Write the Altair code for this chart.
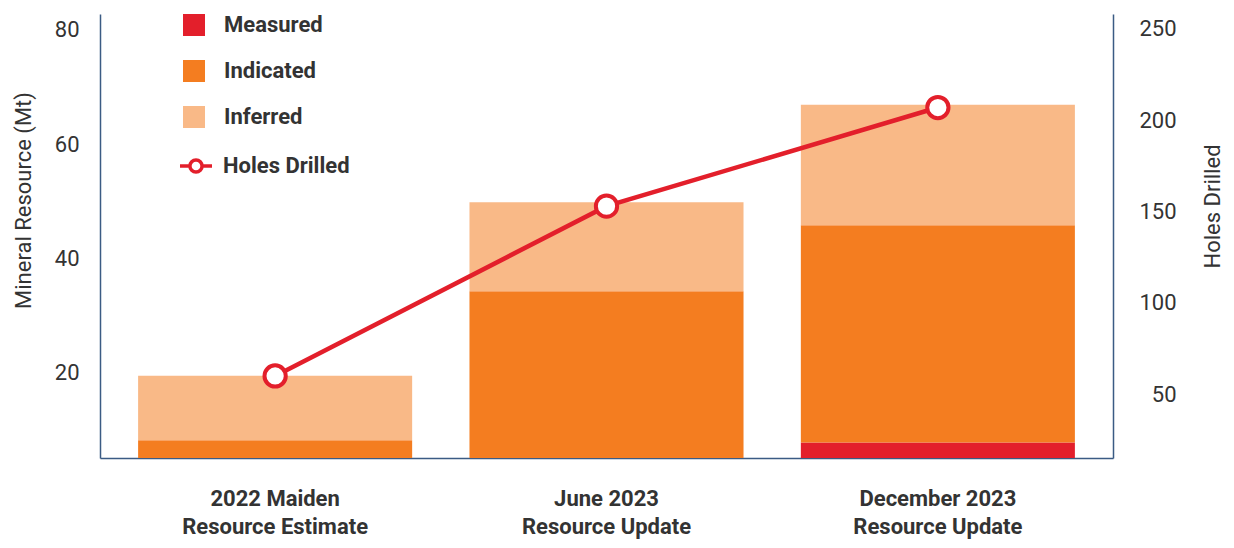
import altair as alt
import pandas as pd

categories = ["2022 Maiden|Resource Estimate", "June 2023|Resource Update", "December 2023|Resource Update"]
classes = ["Measured", "Indicated", "Inferred"]
measured = [0.0, 0.0, 7.7]
indicated = [8.1, 34.2, 38.1]
inferred = [11.3, 15.6, 21.1]
holes = [60, 153, 207]
left_ticks = [20, 40, 60, 80]
right_ticks = [50, 100, 150, 200, 250]
class_colors = ["#e31f2b", "#f47d20", "#f9b987"]
line_color = "#e31f2b"
axis_color = "#3b5b84"
text_color = "#333333"
fs = 22

rows = []
for i, cat in enumerate(categories):
    for j, (cls, vals) in enumerate(zip(classes, [measured, indicated, inferred])):
        rows.append({"category": cat, "cls": cls, "value": vals[i], "idx": j})
bar_df = pd.DataFrame(rows)
line_df = pd.DataFrame({"category": categories, "holes": holes, "series": ["Holes Drilled"] * 3})

x_enc = alt.X(
    "category:N",
    sort=categories,
    scale=alt.Scale(paddingInner=0.173, paddingOuter=0.115),
    axis=alt.Axis(
        title=None,
        labelExpr="split(datum.label, '|')",
        labelFontSize=fs,
        labelFontWeight="bold",
        labelLineHeight=28,
        labelPadding=30,
        labelAngle=0,
        labelLimit=0,
        labelColor=text_color,
        ticks=False,
        domainColor=axis_color,
        domainWidth=1.5,
    ),
)

bars = alt.Chart(bar_df).mark_bar(clip=True).encode(
    x=x_enc,
    y=alt.Y(
        "value:Q",
        stack="zero",
        scale=alt.Scale(domain=[5.0, 82.8], nice=False, zero=False),
        axis=alt.Axis(
            values=left_ticks,
            title="Mineral Resource (Mt)",
            titleFontSize=fs,
            titleFontWeight="normal",
            titleColor=text_color,
            titleAngle=270,
            titleX=-77,
            titleY=186,
            titleAlign="center",
            titleBaseline="middle",
            labelFontSize=fs,
            labelColor=text_color,
            labelPadding=21,
            ticks=False,
            grid=False,
            domainColor=axis_color,
            domainWidth=1.5,
        ),
    ),
    color=alt.Color(
        "cls:N",
        scale=alt.Scale(domain=classes, range=class_colors),
        legend=alt.Legend(
            orient="none",
            legendX=83,
            legendY=0,
            title=None,
            symbolType="square",
            symbolSize=484,
            symbolStrokeWidth=0,
            labelFontSize=fs,
            labelFontWeight="bold",
            labelColor=text_color,
            labelOffset=19,
            rowPadding=24,
            padding=0,
        ),
    ),
    order=alt.Order("idx:Q", sort="ascending"),
)

circle_path = "M-1,0L-0.38,0M0.38,0L1,0M-0.38,0A0.38,0.38,0,1,0,0.38,0A0.38,0.38,0,1,0,-0.38,0"

line = alt.Chart(line_df).mark_line(
    strokeWidth=4.5,
    point=alt.OverlayMarkDef(filled=True, fill="white", size=452, strokeWidth=4, stroke=line_color, opacity=1),
).encode(
    x=alt.X("category:N", sort=categories),
    y=alt.Y(
        "holes:Q",
        scale=alt.Scale(domain=[15.1, 258.2], nice=False, zero=False),
        axis=alt.Axis(
            orient="right",
            values=right_ticks,
            title="Holes Drilled",
            titleFontSize=fs,
            titleFontWeight="normal",
            titleColor=text_color,
            titleAngle=270,
            titleX=99,
            titleY=192,
            titleAlign="center",
            titleBaseline="middle",
            labelFontSize=fs,
            labelColor=text_color,
            labelAlign="right",
            labelPadding=63,
            ticks=False,
            grid=False,
            domainColor=axis_color,
            domainWidth=1.5,
        ),
    ),
    stroke=alt.Stroke(
        "series:N",
        scale=alt.Scale(domain=["Holes Drilled"], range=[line_color]),
        legend=alt.Legend(
            orient="none",
            legendX=78,
            legendY=134,
            title=None,
            symbolType=circle_path,
            symbolSize=1024,
            symbolStrokeWidth=3.5,
            symbolFillColor="white",
            symbolStrokeColor=line_color,
            labelFontSize=fs,
            labelFontWeight="bold",
            labelColor=text_color,
            labelOffset=9,
            padding=0,
        ),
    ),
)

chart = (
    alt.layer(bars, line)
    .resolve_scale(y="independent")
    .properties(
        width=1013,
        height=444,
        autosize=alt.AutoSizeParams(type="none"),
        padding={"left": 92, "top": 6, "right": 112, "bottom": 82},
    )
    .configure(font="Roboto")
    .configure_view(strokeWidth=0)
)

chart.save("out.html", embed_options={"renderer": "svg", "actions": False})
